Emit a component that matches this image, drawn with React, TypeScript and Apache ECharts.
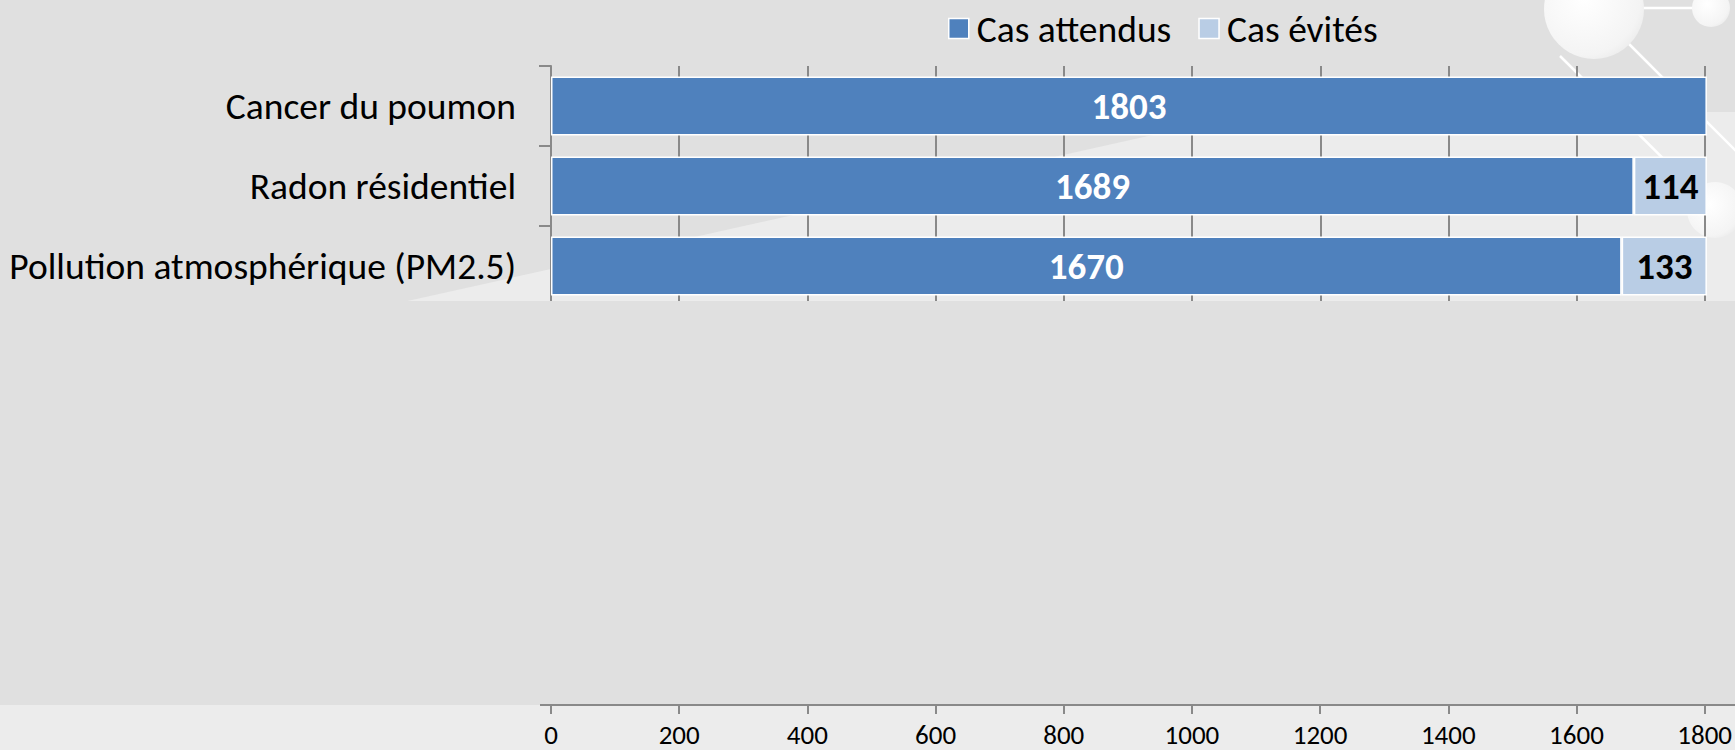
import React, { useEffect, useRef } from "react";
import * as echarts from "echarts";

const categories = ["Cancer du poumon", "Radon résidentiel", "Pollution atmosphérique (PM2.5)"];
const seriesNames = ["Cas attendus", "Cas évités"];
const casAttendus = [1803, 1689, 1670];
const casEvites: (number | null)[] = [null, 114, 133];
const xMin = 0;
const xMax = 1800;
const xInterval = 200;

const FONT = 'Carlito, Calibri, Lato, "Noto Sans", sans-serif';
const BLUE = "#4F81BD";
const LIGHT = "#B9CDE5";
const GRAY = "#898989";

export default function App() {
  const ref = useRef<HTMLDivElement>(null);

  useEffect(() => {
    if (!ref.current) return;
    const chart = echarts.init(ref.current, null, { renderer: "svg" });

    const circleFill = () =>
      new echarts.graphic.RadialGradient(0.4, 0.4, 0.7, [
        { offset: 0, color: "#ffffff" },
        { offset: 0.8, color: "#f4f4f4" },
        { offset: 1, color: "#e9e9e9" },
      ]);

    chart.setOption({
      animation: false,
      backgroundColor: "#E0E0E0",
      textStyle: { fontFamily: FONT },
      graphic: [
        {
          type: "polygon",
          z: -2,
          silent: true,
          shape: { points: [[385, 306], [1256, 112], [1735, 112], [1735, 306]] },
          style: { fill: "#ECECEC" },
        },
        {
          type: "line",
          z: -1,
          silent: true,
          shape: { x1: 1640, y1: 8, x2: 1695, y2: 8 },
          style: { stroke: "#ffffff", lineWidth: 2.5 },
        },
        {
          type: "line",
          z: -1,
          silent: true,
          shape: { x1: 1620, y1: 35, x2: 1770, y2: 185 },
          style: { stroke: "#ffffff", lineWidth: 2.5 },
        },
        {
          type: "line",
          z: -1,
          silent: true,
          shape: { x1: 1560, y1: 56, x2: 1715, y2: 210 },
          style: { stroke: "#ffffff", lineWidth: 2.5 },
        },
        {
          type: "circle",
          z: -1,
          silent: true,
          shape: { cx: 1594, cy: 9, r: 50 },
          style: { fill: circleFill() },
        },
        {
          type: "circle",
          z: -1,
          silent: true,
          shape: { cx: 1711, cy: 8, r: 19 },
          style: { fill: circleFill() },
        },
        {
          type: "circle",
          z: -1,
          silent: true,
          shape: { cx: 1715, cy: 210, r: 28 },
          style: { fill: circleFill() },
        },
        {
          type: "rect",
          z: 5,
          silent: true,
          shape: { x: 0, y: 301, width: 1735, height: 403 },
          style: { fill: "#E0E0E0" },
        },
        {
          type: "rect",
          z: -2,
          silent: true,
          shape: { x: 0, y: 705, width: 1735, height: 45 },
          style: { fill: "#ECECEC" },
        },
        {
          type: "line",
          z: 6,
          silent: true,
          shape: { x1: 540, y1: 705, x2: 552, y2: 705 },
          style: { stroke: GRAY, lineWidth: 2 },
        },
        {
          type: "line",
          z: 6,
          silent: true,
          shape: { x1: 1704, y1: 705, x2: 1735, y2: 705 },
          style: { stroke: GRAY, lineWidth: 2 },
        },
      ],
      legend: {
        left: 948,
        top: 9.5,
        padding: 0,
        itemWidth: 20,
        itemHeight: 20,
        itemGap: 27,
        icon: "rect",
        itemStyle: { borderColor: "#ffffff", borderWidth: 1.5 },
        textStyle: { fontSize: 37.5, color: "#000", fontFamily: FONT, padding: [0, 0, 0, 3] },
        data: seriesNames,
      },
      grid: [
        { left: 551, top: 66, width: 1154, height: 240, containLabel: false },
        { left: 551, top: 600, width: 1154, height: 105, containLabel: false },
      ],
      xAxis: [
        {
          type: "value",
          gridIndex: 0,
          min: xMin,
          max: xMax,
          interval: xInterval,
          axisLine: { show: false },
          axisTick: { show: false },
          axisLabel: { show: false },
          splitLine: { show: true, lineStyle: { color: GRAY, width: 2 } },
        },
        {
          type: "value",
          gridIndex: 1,
          min: xMin,
          max: xMax,
          interval: xInterval,
          axisLine: { show: true, lineStyle: { color: GRAY, width: 2 } },
          axisTick: { show: true, length: 9, lineStyle: { color: GRAY, width: 2 } },
          axisLabel: {
            show: true,
            fontSize: 27,
            lineHeight: 27,
            color: "#000",
            margin: 16,
            fontFamily: FONT,
            formatter: (v: number) => String(v),
          },
          splitLine: { show: false },
        },
      ],
      yAxis: [
        {
          type: "category",
          gridIndex: 0,
          data: categories,
          inverse: true,
          axisLine: { show: true, lineStyle: { color: GRAY, width: 2 } },
          axisTick: { show: true, length: 12, lineStyle: { color: GRAY, width: 2 } },
          axisLabel: { fontSize: 37.5, color: "#000", margin: 35, fontFamily: FONT },
          splitLine: { show: false },
        },
        { type: "value", gridIndex: 1, show: false, min: 0, max: 1 },
      ],
      series: [
        {
          name: seriesNames[0],
          type: "bar",
          stack: "total",
          xAxisIndex: 0,
          yAxisIndex: 0,
          clip: false,
          barWidth: 59,
          data: casAttendus,
          itemStyle: { color: BLUE, borderColor: "#ffffff", borderWidth: 1.5 },
          label: {
            show: true,
            position: "inside",
            color: "#ffffff",
            fontWeight: "bold",
            fontSize: 37,
            fontFamily: FONT,
          },
        },
        {
          name: seriesNames[1],
          type: "bar",
          stack: "total",
          xAxisIndex: 0,
          yAxisIndex: 0,
          clip: false,
          barWidth: 59,
          data: casEvites,
          itemStyle: { color: LIGHT, borderColor: "#ffffff", borderWidth: 1.5 },
          label: {
            show: true,
            position: "inside",
            color: "#000000",
            fontWeight: "bold",
            fontSize: 37,
            fontFamily: FONT,
          },
        },
      ],
    });

    return () => chart.dispose();
  }, []);

  return (
    <div
      ref={ref}
      style={{ position: "fixed", left: 0, top: 0, width: 1735, height: 750 }}
    />
  );
}
